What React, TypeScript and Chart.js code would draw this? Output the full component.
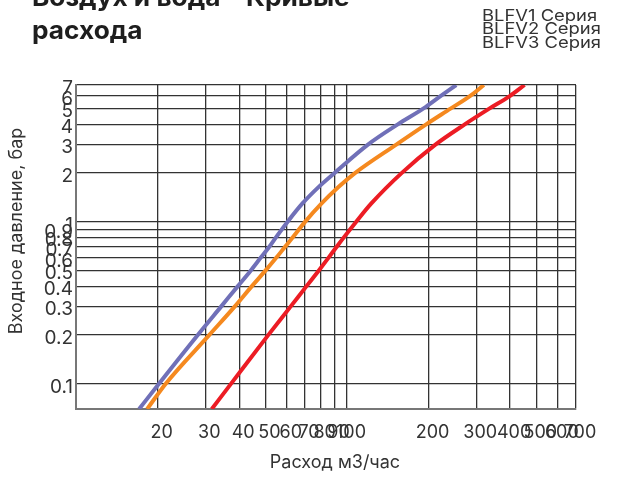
import React, { useEffect, useRef } from 'react';
import { Chart, registerables } from 'chart.js';

Chart.register(...registerables);

const titleLines = ['Воздух и вода – Кривые', 'расхода'];
const xAxisTitle = 'Расход м3/час';
const yAxisTitle = 'Входное давление, бар';
const seriesLabels = ['BLFV1 Серия', 'BLFV2 Серия', 'BLFV3 Серия'];
const seriesColors = ['#7070b8', '#f5891f', '#ec1c24'];

const xTickValues = [10, 20, 30, 40, 50, 60, 70, 80, 90, 100, 200, 300, 400, 500, 600, 700];
const yTickValues = [0.07, 0.1, 0.2, 0.3, 0.4, 0.5, 0.6, 0.7, 0.8, 0.9, 1, 2, 3, 4, 5, 6, 7];

const blueFlow = [17.1, 20.2, 28.1, 34.3, 39.5, 44.1, 48, 51.6, 54.6, 60.3, 68.5, 78.5, 89.8, 119.5, 154, 191, 222, 253];
const bluePressure = [0.07, 0.1, 0.2, 0.3, 0.4, 0.5, 0.6, 0.7, 0.8, 1, 1.3, 1.64, 2, 3, 4, 5, 6, 7];

const orangeFlow = [18.3, 21.4, 31, 38.5, 44.5, 50, 54.8, 59, 63, 70, 80.6, 93, 107, 152, 196, 241, 285, 320];
const orangePressure = [0.07, 0.1, 0.2, 0.3, 0.4, 0.5, 0.6, 0.7, 0.8, 1, 1.3, 1.64, 2, 3, 4, 5, 6, 7];

const redFlow = [31.7, 37.3, 51.2, 61.9, 70.8, 78.6, 85.4, 91.5, 97.2, 108, 123, 159, 212, 272, 335, 400, 452];
const redPressure = [0.07, 0.1, 0.2, 0.3, 0.4, 0.5, 0.6, 0.7, 0.8, 1, 1.3, 2, 3, 4, 5, 6, 7];

const toPoints = (xs: number[], ys: number[]) => xs.map((x, i) => ({ x, y: ys[i] }));

const overlayPlugin = {
  id: 'overlayText',
  afterDraw(chart: any) {
    const ctx = chart.ctx as CanvasRenderingContext2D;
    const area = chart.chartArea;
    ctx.save();
    ctx.textAlign = 'left';
    ctx.textBaseline = 'alphabetic';
    ctx.fillStyle = '#1e1e1e';
    ctx.font = 'bold 25px Inter';
    titleLines.forEach((t, i) => {
      ctx.save();
      ctx.translate(32, 6 + i * 32.5);
      ctx.scale(1.05, 1);
      ctx.fillText(t, 0, 0);
      ctx.restore();
    });
    ctx.fillStyle = '#333';
    ctx.font = '16px Inter';
    chart.data.datasets.forEach((ds: any, i: number) => {
      ctx.save();
      ctx.translate(482, 20.7 + i * 13.5);
      ctx.scale(1.15, 1);
      ctx.fillText(ds.label, 0, 0);
      ctx.restore();
    });
    // axis titles
    ctx.font = '18px Inter';
    ctx.fillStyle = '#333';
    ctx.textAlign = 'center';
    ctx.textBaseline = 'middle';
    ctx.fillText(xAxisTitle, (area.left + area.right) / 2 + 9, 463);
    ctx.save();
    ctx.translate(17, (area.top + area.bottom) / 2 - 16);
    ctx.rotate(-Math.PI / 2);
    ctx.fillText(yAxisTitle, 0, 0);
    ctx.restore();
    ctx.restore();
  },
};

export default function App() {
  const canvasRef = useRef<HTMLCanvasElement | null>(null);

  useEffect(() => {
    if (!canvasRef.current) return;
    Chart.defaults.font.family = 'Inter';
    const gridColor = '#333';
    const chart = new Chart(canvasRef.current, {
      type: 'line',
      data: {
        datasets: [
          { label: seriesLabels[0], data: toPoints(blueFlow, bluePressure), borderColor: seriesColors[0] },
          { label: seriesLabels[1], data: toPoints(orangeFlow, orangePressure), borderColor: seriesColors[1] },
          { label: seriesLabels[2], data: toPoints(redFlow, redPressure), borderColor: seriesColors[2] },
        ].map((d) => ({
          ...d,
          borderWidth: 4,
          pointRadius: 0,
          fill: false,
          cubicInterpolationMode: 'monotone' as const,
        })),
      },
      options: {
        responsive: false,
        animation: false,
        layout: { padding: { top: 85, right: 42, left: 0, bottom: 0 } },
        plugins: {
          legend: { display: false },
          title: { display: false },
          tooltip: { enabled: false },
        },
        scales: {
          x: {
            type: 'logarithmic',
            min: 10,
            max: 700,
            afterBuildTicks: (scale: any) => {
              scale.ticks = xTickValues.map((v) => ({ value: v }));
            },
            afterFit: (scale: any) => {
              scale.height = 69;
            },
            ticks: {
              autoSkip: false,
              maxRotation: 0,
              padding: 13,
              labelOffset: 4,
              color: '#333',
              font: { size: 18 },
              callback: (v: any) => (Number(v) === 10 ? '' : String(v)),
            },
            grid: { color: gridColor, lineWidth: 1.3, drawTicks: false },
            border: { color: '#777', width: 2 },
            title: { display: false },
          },
          y: {
            type: 'logarithmic',
            min: 0.07,
            max: 7,
            afterBuildTicks: (scale: any) => {
              scale.ticks = yTickValues.map((v) => ({ value: v }));
            },
            afterFit: (scale: any) => {
              scale.width = 76;
            },
            ticks: {
              autoSkip: false,
              padding: 3,
              labelOffset: 3,
              color: '#333',
              font: { size: 19 },
              callback: (v: any) => (Number(v) === 0.07 ? '' : String(v)),
            },
            grid: { color: gridColor, lineWidth: 1.3, drawTicks: false },
            border: { color: '#777', width: 2 },
            title: { display: false },
          },
        },
      },
      plugins: [overlayPlugin],
    } as any);
    return () => chart.destroy();
  }, []);

  return (
    <div style={{ position: 'absolute', left: 0, top: 0, width: 618, height: 478, background: '#fff' }}>
      <canvas ref={canvasRef} width={618} height={478} />
    </div>
  );
}
